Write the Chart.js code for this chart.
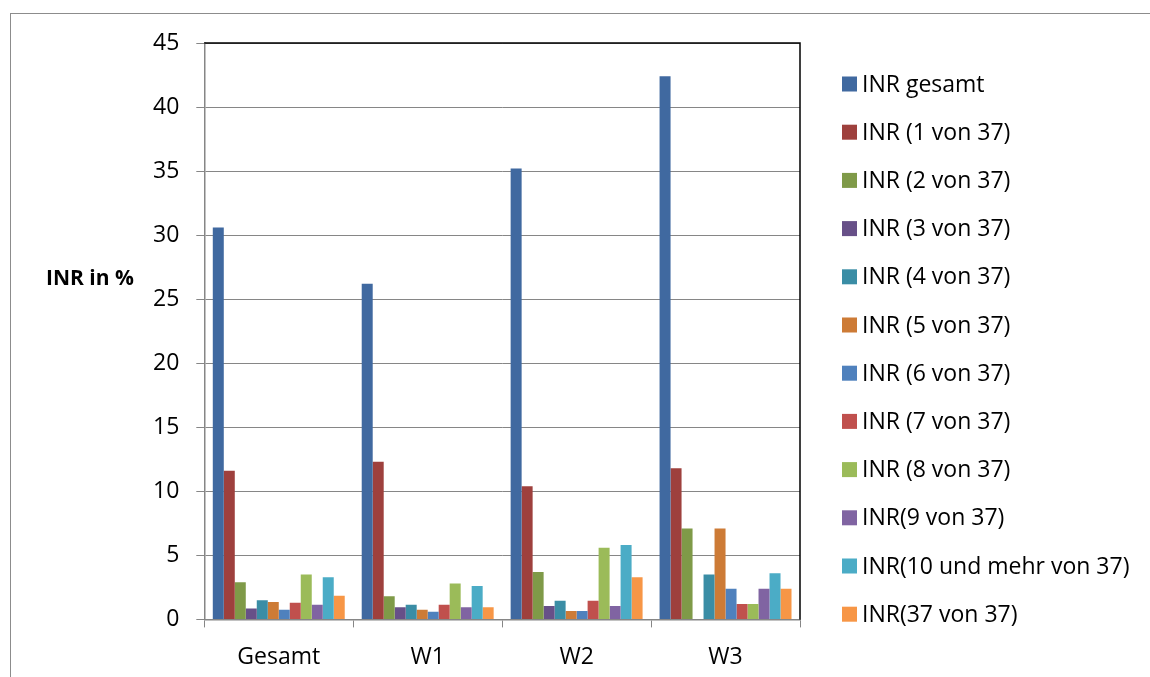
<!DOCTYPE html>
<html>
<head>
<meta charset="utf-8">
<script src="https://cdn.jsdelivr.net/npm/chart.js@4"></script>
<style>
	html, body { margin: 0; padding: 0; background: #fff; }
	#wrap { position: relative; width: 1150px; height: 677px; overflow: hidden; }
	#frame { position: absolute; left: 10px; top: 13px; width: 1200px; height: 700px;
		border-top: 1px solid #8c8c8c; border-left: 1px solid #8c8c8c; }
	canvas { position: absolute; left: 0; top: 0; }
</style>
</head>
<body>
<div id="wrap">
	<div id="frame"></div>
	<canvas id="inr_chart" width="1150" height="677"></canvas>
</div>
<script>
const groups = ['Gesamt', 'W1', 'W2', 'W3'];
const series_names = [
	'INR gesamt', 'INR (1 von 37)', 'INR (2 von 37)', 'INR (3 von 37)',
	'INR (4 von 37)', 'INR (5 von 37)', 'INR (6 von 37)', 'INR (7 von 37)',
	'INR (8 von 37)', 'INR(9 von 37)', 'INR(10 und mehr von 37)', 'INR(37 von 37)'
];
const inr_gesamt = [30.6, 26.2, 35.2, 42.4];
const inr_1 = [11.6, 12.3, 10.4, 11.8];
const inr_2 = [2.9, 1.8, 3.7, 7.1];
const inr_3 = [0.85, 0.95, 1.05, 0];
const inr_4 = [1.5, 1.15, 1.45, 3.5];
const inr_5 = [1.35, 0.75, 0.65, 7.1];
const inr_6 = [0.75, 0.6, 0.65, 2.4];
const inr_7 = [1.3, 1.15, 1.45, 1.2];
const inr_8 = [3.5, 2.8, 5.6, 1.2];
const inr_9 = [1.15, 0.95, 1.05, 2.4];
const inr_10 = [3.3, 2.6, 5.8, 3.6];
const inr_37 = [1.85, 0.95, 3.3, 2.4];
const y_ticks = [0, 5, 10, 15, 20, 25, 30, 35, 40, 45];

const series_values = [inr_gesamt, inr_1, inr_2, inr_3, inr_4, inr_5, inr_6, inr_7, inr_8, inr_9, inr_10, inr_37];
const series_colors = [
	'#4069a0', '#9e403d', '#7f9a48', '#675088', '#3a8da5', '#cd7b36',
	'#4f81bd', '#c0504d', '#9bbb59', '#8064a2', '#4bacc6', '#f79646'
];

const font_family = '"Open Sans", "Noto Sans", sans-serif';
const font_size = 23;
const grid_color = '#868686';

// black top and right edge of the plot area, the horizontal y title and the legend
const plot_frame = {
	id: 'plot_frame',
	afterDraw(chart) {
		const ctx = chart.ctx;
		const a = chart.chartArea;
		ctx.save();
		ctx.strokeStyle = '#000';
		ctx.lineWidth = 1.5;
		ctx.beginPath();
		ctx.moveTo(a.left, a.top);
		ctx.lineTo(a.right, a.top);
		ctx.lineTo(a.right, a.bottom);
		ctx.stroke();

		ctx.fillStyle = '#000';
		ctx.font = 'bold 21px ' + font_family;
		ctx.textAlign = 'left';
		ctx.textBaseline = 'middle';
		ctx.fillText('INR in %', 46, 279);

		// legend
		ctx.font = font_size + 'px ' + font_family;
		chart.data.datasets.forEach((ds, i) => {
			const y = 84 + i * 48.2;
			ctx.fillStyle = ds.backgroundColor;
			ctx.fillRect(842, y - 7.5, 15, 15);
			ctx.fillStyle = '#000';
			ctx.fillText(ds.label, 862, y + 1);
		});
		ctx.restore();
	}
};

const inr_chart = new Chart(
		document.getElementById('inr_chart').getContext('2d'),
		{
			type: 'bar',
			data: {
				labels: groups,
				datasets: series_names.map((name, i) => ({
					label: name,
					data: series_values[i],
					backgroundColor: series_colors[i],
					borderWidth: 0,
					categoryPercentage: 0.886,
					barPercentage: 1.0
				}))
			},
			options: {
				responsive: false,
				animation: false,
				layout: {
					padding: { left: 136, top: 43, right: 350, bottom: -10 }
				},
				plugins: {
					legend: { display: false },
					tooltip: { enabled: false }
				},
				scales: {
					x: {
						grid: {
							display: true,
							drawOnChartArea: false,
							drawTicks: true,
							tickLength: 8,
							color: grid_color
						},
						border: { color: grid_color, width: 1.5 },
						ticks: {
							font: { family: font_family, size: font_size },
							color: '#000',
							padding: 16
						}
					},
					y: {
						min: 0,
						max: 45,
						afterBuildTicks: (scale) => {
							scale.ticks = y_ticks.map(v => ({ value: v }));
						},
						grid: {
							color: grid_color,
							tickLength: 8
						},
						border: { color: grid_color, width: 1.5 },
						ticks: {
							font: { family: font_family, size: font_size },
							color: '#000',
							padding: 17
						}
					}
				}
			},
			plugins: [plot_frame]
		}
);
</script>
</body>
</html>
